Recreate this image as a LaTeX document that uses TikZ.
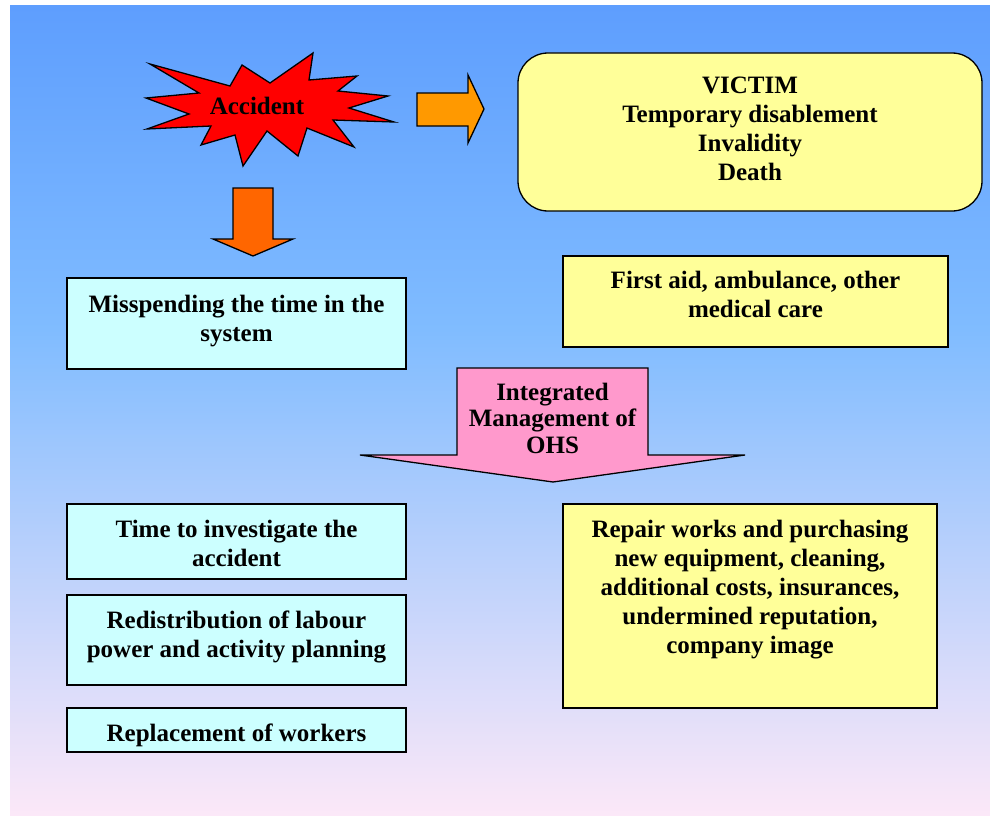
\documentclass[tikz,border=0pt]{standalone}
\usepackage{fontspec}
\setmainfont{Liberation Serif}
\definecolor{topb}{RGB}{94,158,254}
\definecolor{midb}{RGB}{128,188,255}
\definecolor{botp}{RGB}{252,232,248}
\definecolor{boxyel}{RGB}{255,255,153}
\definecolor{boxcyan}{RGB}{204,255,255}
\definecolor{pinkar}{RGB}{255,153,204}
\definecolor{orangeA}{RGB}{255,153,0}
\definecolor{orangeB}{RGB}{255,102,0}
\definecolor{starred}{RGB}{255,0,0}
\pgfdeclareverticalshading{bgshade}{100bp}{color(0bp)=(botp); color(25bp)=(botp); color(55bp)=(midb); color(75bp)=(topb); color(100bp)=(topb)}
\tikzset{
  txt/.style={font=\bfseries\fontsize{25}{29}\selectfont, align=center, inner sep=0pt},
  box/.style={draw=black, line width=1.3pt, inner sep=0pt},
  shapeline/.style={draw=black, line width=1.3pt, line join=miter},
}
\begin{document}
\begin{tikzpicture}[x=1pt,y=-1pt]
\useasboundingbox (0,0) rectangle (990,816);
\shade[shading=bgshade] (10,6) rectangle (990,816);

% Accident starburst
\filldraw[shapeline, fill=starred] (150,64) -- (230,86) -- (242,65) -- (270,83) -- (313,53) -- (309,80) -- (357,76) -- (338,91) -- (388,96) -- (349,108) -- (394,122) -- (333,120) -- (354,147) -- (307,128) -- (298,156) -- (267,131) -- (243,166) -- (235,135) -- (201,145) -- (211,126) -- (147,129) -- (189,114) -- (146,98) -- (199,93) -- cycle;
\node[txt, anchor=base] (acc) at (257,114) {Accident};

% arrows
\filldraw[shapeline, fill=orangeA] (417,93) -- (468,93) -- (468,75) -- (484,109) -- (468,143) -- (468,126) -- (417,126) -- cycle;
\filldraw[shapeline, fill=orangeB] (233,188) -- (273,188) -- (273,239) -- (293,239) -- (253,256) -- (213,239) -- (233,239) -- cycle;
\filldraw[shapeline, fill=pinkar] (457,368) -- (648,368) -- (648,455) -- (745,455) -- (553,482) -- (360,455) -- (457,455) -- cycle;
\node[txt, anchor=base, font=\bfseries\fontsize{25}{26.5}\selectfont] (ohs) at (552.5,453) {Integrated\\Management of\\OHS};

% victim box
\node[box, fill=boxyel, rounded corners=30pt, minimum width=464pt, minimum height=158pt] (victim) at (750,132) {};
\node[txt, anchor=base] (victimtxt) at (750,180) {VICTIM\\Temporary disablement\\Invalidity\\Death};

% first aid
\node[box, fill=boxyel, minimum width=385pt, minimum height=91pt] (aid) at (755.5,301.5) {};
\node[txt, anchor=base] (aidtxt) at (755.5,317) {First aid, ambulance, other\\medical care};

% misspending
\node[box, fill=boxcyan, minimum width=339pt, minimum height=91pt] (mis) at (236.5,323.5) {};
\node[txt, anchor=base] (mistxt) at (236.5,341) {Misspending the time in the\\system};

% left column
\node[box, fill=boxcyan, minimum width=339pt, minimum height=75pt] (inv) at (236.5,541.5) {};
\node[txt, anchor=base] (invtxt) at (236.5,566) {Time to investigate the\\accident};
\node[box, fill=boxcyan, minimum width=339pt, minimum height=90pt] (red) at (236.5,640) {};
\node[txt, anchor=base] (redtxt) at (236.5,657) {Redistribution of labour\\power and activity planning};
\node[box, fill=boxcyan, minimum width=339pt, minimum height=44pt] (repl) at (236.5,730) {};
\node[txt, anchor=base] (repltxt) at (236.5,741) {Replacement of workers};

% repair box
\node[box, fill=boxyel, minimum width=374pt, minimum height=204pt] (rep) at (750,606) {};
\node[txt, anchor=base] (reptxt) at (750,653) {Repair works and purchasing\\new equipment, cleaning,\\additional costs, insurances,\\undermined reputation,\\company image};
\end{tikzpicture}
\end{document}
